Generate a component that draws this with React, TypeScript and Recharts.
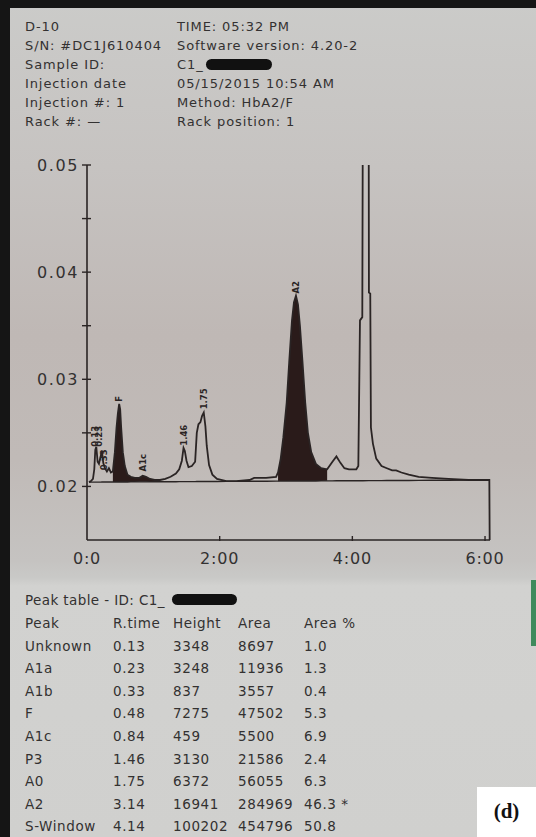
import { ComposedChart, Line, Area, Scatter, XAxis, YAxis } from "recharts";

// chromatogram trace, time in minutes / detector signal
const TRACE_T = [
  0.03, 0.06, 0.09, 0.11, 0.125, 0.14, 0.16, 0.18, 0.205, 0.225, 0.245, 0.27,
  0.3, 0.33, 0.36, 0.39, 0.42, 0.445, 0.465, 0.485, 0.5, 0.515, 0.54, 0.57,
  0.61, 0.66, 0.72, 0.79, 0.84, 0.89, 0.95, 1.02, 1.1, 1.18, 1.26, 1.34, 1.39,
  1.43, 1.455, 1.475, 1.5, 1.53, 1.58, 1.63, 1.655, 1.68, 1.71, 1.735, 1.76,
  1.785, 1.805, 1.84, 1.89, 1.96, 2.1, 2.25, 2.45, 2.52, 2.7, 2.85, 2.88, 2.92,
  2.96, 3.01, 3.05, 3.09, 3.12, 3.15, 3.18, 3.21, 3.25, 3.29, 3.33, 3.38, 3.45,
  3.53, 3.62, 3.7, 3.76, 3.82, 3.88, 3.95, 4.06, 4.09, 4.105, 4.115, 4.15, 4.16,
  4.245, 4.25, 4.27, 4.28, 4.31, 4.36, 4.44, 4.52, 4.6, 4.66, 4.74, 4.85, 5.0,
  5.2, 5.45, 5.75, 6.065, 6.07,
];
const TRACE_V = [
  0.0204, 0.0205, 0.0207, 0.0216, 0.0234, 0.0237, 0.0223, 0.0221, 0.0228,
  0.0233, 0.0222, 0.0217, 0.0214, 0.0217, 0.0213, 0.0214, 0.0232, 0.0255,
  0.0268, 0.0277, 0.0272, 0.0255, 0.0232, 0.0219, 0.0211, 0.0209, 0.0208,
  0.0208, 0.021, 0.0209, 0.0207, 0.0206, 0.0206, 0.0207, 0.0209, 0.0212,
  0.0216, 0.0224, 0.0236, 0.0233, 0.0224, 0.0218, 0.0219, 0.0223, 0.025,
  0.0258, 0.026, 0.0266, 0.0269, 0.0256, 0.0238, 0.022, 0.0211, 0.0207,
  0.0205, 0.0205, 0.0206, 0.0208, 0.0208, 0.0209, 0.0213, 0.0226, 0.0246,
  0.0278, 0.0318, 0.0355, 0.0372, 0.0378, 0.037, 0.035, 0.0315, 0.0278,
  0.025, 0.0232, 0.0221, 0.0217, 0.0216, 0.0223, 0.0228, 0.0222, 0.0217,
  0.0216, 0.0216, 0.0219, 0.03, 0.0355, 0.0358, 0.06, 0.06, 0.0381, 0.038,
  0.0255, 0.024, 0.0226, 0.0219, 0.0217, 0.0215, 0.0215, 0.0213, 0.0211,
  0.0209, 0.0208, 0.0207, 0.0206, 0.0206, 0.015,
];

// integration baseline (start, end)
const BASELINE_T = [0.03, 6.07];
const BASELINE_V = [0.0204, 0.0206];

// shaded peaks (time ranges)
const FILL_FROM = [0.39, 2.86];
const FILL_TO = [1.07, 3.62];

const Y_TICKS = [0.02, 0.025, 0.03, 0.035, 0.04, 0.045, 0.05];
const Y_LABELS = ["0.02", "", "0.03", "", "0.04", "", "0.05"];
const X_TICKS = [0, 2, 4, 6];
const X_LABELS = ["0:0", "2:00", "4:00", "6:00"];

const PEAK_NAMES = ["0.13", "0.23", "0.33", "F", "A1c", "1.46", "1.75", "A2"];
const PEAK_T = [0.12, 0.18, 0.256, 0.48, 0.843, 1.46, 1.76, 3.15];
const PEAK_V = [0.0237, 0.0237, 0.0215, 0.0279, 0.0214, 0.0238, 0.0272, 0.038];

const HEADER_LEFT = ["D-10", "S/N: #DC1J610404", "Sample ID:", "Injection date", "Injection #: 1", "Rack #: \u2014"];
const HEADER_RIGHT = ["TIME: 05:32 PM", "Software version: 4.20-2", "C1_", "05/15/2015 10:54 AM", "Method: HbA2/F", "Rack position: 1"];

const TABLE_COLS = ["Peak", "R.time", "Height", "Area", "Area %"];
const TABLE_PEAK = ["Unknown", "A1a", "A1b", "F", "A1c", "P3", "A0", "A2", "S-Window"];
const TABLE_RTIME = ["0.13", "0.23", "0.33", "0.48", "0.84", "1.46", "1.75", "3.14", "4.14"];
const TABLE_HEIGHT = ["3348", "3248", "837", "7275", "459", "3130", "6372", "16941", "100202"];
const TABLE_AREA = ["8697", "11936", "3557", "47502", "5500", "21586", "56055", "284969", "454796"];
const TABLE_PCT = ["1.0", "1.3", "0.4", "5.3", "6.9", "2.4", "6.3", "46.3 *", "50.8"];

const INK = "#2a2424";
const TEXT = "#333131";
const FONT = "'DejaVu Sans', Verdana, sans-serif";

const baseAt = (t: number) =>
  BASELINE_V[0] + ((t - BASELINE_T[0]) / (BASELINE_T[1] - BASELINE_T[0])) * (BASELINE_V[1] - BASELINE_V[0]);

const rows = TRACE_T.map((t, i) => {
  const inFill = FILL_FROM.some((f, k) => t >= f && t <= FILL_TO[k]);
  return {
    t,
    v: TRACE_V[i],
    base: baseAt(t),
    fill: inFill ? [baseAt(t), TRACE_V[i]] : null,
  };
});

const peakLabels = PEAK_NAMES.map((name, i) => ({ t: PEAK_T[i], v: PEAK_V[i], name }));

const YTick = (props: any) => {
  const { x, y, payload } = props;
  const label = Y_LABELS[Y_TICKS.indexOf(payload.value)] || "";
  return (
    <g>
      <line x1={x - 5} x2={x + 4} y1={y} y2={y} stroke={INK} strokeWidth={1.4} />
      {label && (
        <text x={x - 8} y={y + 6} textAnchor="end" fontFamily={FONT} fontSize={16} fill={TEXT} letterSpacing={1.6}>
          {label}
        </text>
      )}
    </g>
  );
};

const XTick = (props: any) => {
  const { x, y, payload } = props;
  const label = X_LABELS[X_TICKS.indexOf(payload.value)] || "";
  return (
    <g>
      {payload.value > 0 && <line x1={x} x2={x} y1={y - 4} y2={y + 1} stroke={INK} strokeWidth={1.4} />}
      <text x={x} y={y + 24} textAnchor="middle" fontFamily={FONT} fontSize={16} fill={TEXT} letterSpacing={0.8}>
        {label}
      </text>
    </g>
  );
};

const PeakLabel = (props: any) => {
  const { cx, cy, payload } = props;
  return (
    <text
      x={cx}
      y={cy + 3}
      transform={`rotate(-90 ${cx} ${cy})`}
      fontFamily={FONT}
      fontSize={8.5}
      fontWeight="bold"
      fill={INK}
    >
      {payload.name}
    </text>
  );
};

const Blob = ({ left, top, width }: { left: number; top: number; width: number }) => (
  <div
    style={{
      position: "absolute",
      left,
      top,
      width,
      height: 11,
      background: "#111",
      borderRadius: 6,
    }}
  />
);

export default function App() {
  const text = { position: "absolute" as const, fontFamily: FONT, color: TEXT, whiteSpace: "nowrap" as const };
  return (
    <div
      style={{
        position: "absolute",
        left: 0,
        top: 0,
        width: 536,
        height: 837,
        overflow: "hidden",
        background:
          "linear-gradient(to bottom, #cbcbc9 0%, #c6c3c1 20%, #bfb8b5 40%, #c0bab7 55%, #c5c3c1 67%, #c9c9c7 69%, #d2d2d0 70%, #d0d0ce 100%)",
      }}
    >
      <div style={{ position: "absolute", left: 0, top: 0, width: 10, height: 837, background: "#151515" }} />
      <div style={{ position: "absolute", left: 0, top: 0, width: 536, height: 8, background: "#151515" }} />
      <div style={{ position: "absolute", left: 531, top: 580, width: 5, height: 66, background: "#3f8a5c" }} />

      {HEADER_LEFT.map((s, i) => (
        <div key={"l" + i} style={{ ...text, left: 25, top: 19 + i * 19, fontSize: 13, letterSpacing: 0.9, lineHeight: "16px" }}>
          {s}
        </div>
      ))}
      {HEADER_RIGHT.map((s, i) => (
        <div key={"r" + i} style={{ ...text, left: 177, top: 19 + i * 19, fontSize: 13, letterSpacing: 0.9, lineHeight: "16px" }}>
          {s}
        </div>
      ))}
      <Blob left={206} top={59} width={66} />

      <div style={{ position: "absolute", left: 0, top: 0 }}>
        <ComposedChart
          width={536}
          height={600}
          data={rows}
          margin={{ top: 165, right: 46, bottom: 30, left: 47 }}
        >
          <XAxis
            dataKey="t"
            type="number"
            domain={[0, 6.075]}
            ticks={X_TICKS}
            tick={<XTick />}
            tickSize={0}
            tickMargin={0}
            height={30}
            axisLine={{ stroke: INK, strokeWidth: 1.6 }}
            tickLine={false}
          />
          <YAxis
            type="number"
            domain={[0.015, 0.05]}
            allowDataOverflow
            ticks={Y_TICKS}
            tick={<YTick />}
            tickSize={0}
            tickMargin={0}
            width={40}
            axisLine={{ stroke: INK, strokeWidth: 1.6 }}
            tickLine={false}
          />
          <Area
            type="linear"
            dataKey="fill"
            stroke="none"
            fill="#2a1b1a"
            fillOpacity={1}
            isAnimationActive={false}
          />
          <Line
            type="linear"
            dataKey="base"
            stroke={INK}
            strokeWidth={1.4}
            dot={false}
            activeDot={false}
            isAnimationActive={false}
          />
          <Line
            type="linear"
            dataKey="v"
            stroke={INK}
            strokeWidth={1.8}
            dot={false}
            activeDot={false}
            isAnimationActive={false}
          />
          <Scatter data={peakLabels} dataKey="v" shape={<PeakLabel />} isAnimationActive={false} />
        </ComposedChart>
      </div>

      <div style={{ ...text, left: 25, top: 592, fontSize: 13.5, letterSpacing: 0.4, lineHeight: "16px" }}>
        Peak table - ID: C1_
      </div>
      <Blob left={172} top={594} width={65} />
      {[TABLE_COLS].concat(
        TABLE_PEAK.map((p, i) => [p, TABLE_RTIME[i], TABLE_HEIGHT[i], TABLE_AREA[i], TABLE_PCT[i]])
      ).map((row, r) =>
        row.map((cell, c) => (
          <div
            key={r + "-" + c}
            style={{
              ...text,
              left: [25, 113, 173, 238, 304][c],
              top: 615 + r * 22.6,
              fontSize: 13.5,
              letterSpacing: 0.6,
              lineHeight: "16px",
            }}
          >
            {cell}
          </div>
        ))
      )}

      <div
        style={{
          position: "absolute",
          left: 477,
          top: 787,
          width: 59,
          height: 50,
          background: "#ffffff",
        }}
      />
      <div
        style={{
          position: "absolute",
          left: 477,
          top: 799,
          width: 59,
          textAlign: "center",
          fontFamily: "'Liberation Serif', 'Times New Roman', serif",
          fontWeight: "bold",
          fontSize: 21,
          lineHeight: "24px",
          color: "#111",
        }}
      >
        (d)
      </div>
    </div>
  );
}
